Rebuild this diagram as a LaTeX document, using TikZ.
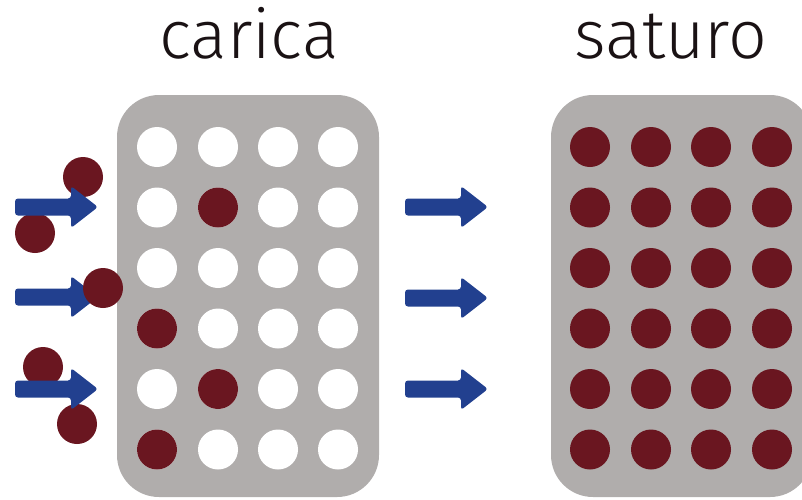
\documentclass[tikz,border=0pt]{standalone}
\usepackage{fontspec}
\setmainfont{Fira Sans}[UprightFont=* Light]
\definecolor{panelgrey}{HTML}{B0ADAC}
\definecolor{sitered}{HTML}{6A1620}
\definecolor{flowblue}{HTML}{22408F}
\definecolor{inkblack}{HTML}{1A1214}
\tikzset{
  panel/.style={fill=panelgrey, rounded corners=42pt},
  site/.style={circle, fill=white, minimum size=40pt, inner sep=0pt},
  full/.style={circle, fill=sitered, minimum size=40pt, inner sep=0pt},
  title/.style={anchor=base, text=inkblack, font=\fontsize{68}{68}\selectfont},
  pics/fatarrow/.style={code={
    \fill[flowblue, rounded corners=3pt]
      (0,-8.5) -- (56,-8.5) -- (56,-21) -- (83,0) -- (56,21) -- (56,8.5) -- (0,8.5) -- cycle;
  }}
}
\begin{document}
\begin{tikzpicture}[x=1pt, y=-1pt]
\useasboundingbox (0,0) rectangle (802,499);
\clip (0,0) rectangle (802,499);

% titles
\node[title] (tcarica) at (249,58) {carica};
\node[title] (tsaturo) at (671,58) {saturo};

% the two adsorbent beds
\fill[panel] (117,95) rectangle (379,497);
\fill[panel] (551,95) rectangle (812,497);

% left bed: mostly empty sites
\foreach \r/\y in {1/147,2/207.5,3/268,4/328.5,5/389,6/449.5}{
  \foreach \c/\x in {1/157,2/218,3/278,4/338}{
    \node[site] (L\r\c) at (\x,\y) {};
  }
}
\node[full] (L22) at (218,207.5) {};
\node[full] (L41) at (157,328.5) {};
\node[full] (L52) at (218,389) {};
\node[full] (L61) at (157,449.5) {};

% right bed: every site occupied
\foreach \r/\y in {1/147,2/207.5,3/268,4/328.5,5/389,6/449.5}{
  \foreach \c/\x in {1/590,2/651,3/711,4/772}{
    \node[full] (R\r\c) at (\x,\y) {};
  }
}

% incoming molecules behind the arrows
\node[full] (m1) at (83,177) {};
\node[full] (m2) at (35,233) {};
\node[full] (m4) at (43,367) {};
\node[full] (m5) at (77,424) {};

% feed arrows
\pic at (15,207) {fatarrow};
\pic at (15,297) {fatarrow};
\pic at (15,389) {fatarrow};

% arrows between the two states
\pic at (405,207) {fatarrow};
\pic at (405,298) {fatarrow};
\pic at (405,389) {fatarrow};

% molecule in front of the middle feed arrow
\node[full] (m3) at (103,288) {};
\end{tikzpicture}
\end{document}
